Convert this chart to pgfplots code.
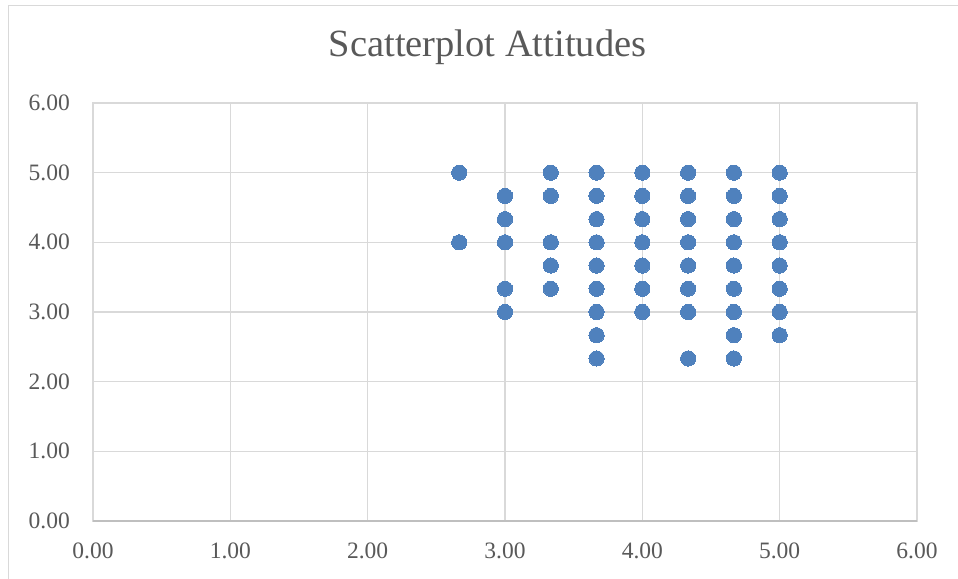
\documentclass[border=0pt]{standalone}
\usepackage{pgfplots}
\pgfplotsset{compat=1.18}
\usepackage{fontspec}
\setmainfont{Liberation Serif}
\definecolor{gridc}{RGB}{217,217,217}
\definecolor{axisc}{RGB}{191,191,191}
\definecolor{txtc}{RGB}{89,89,89}
\definecolor{ptc}{RGB}{79,129,189}
\begin{document}
\begin{tikzpicture}[x=1bp,y=1bp]
\useasboundingbox (0,0) rectangle (958,579);
\fill[white] (0,0) rectangle (958,579);
\draw[gridc, line width=1.3bp] (8.3,0) -- (8.3,573.3) -- (958,573.3);
\node[anchor=base, text=txtc, font=\fontsize{38.5bp}{42bp}\selectfont] at (487.5,522) {Scatterplot Attitudes};
\begin{axis}[
  at={(93bp,58bp)}, anchor=south west,
  scale only axis, width=824bp, height=418bp,
  xmin=0, xmax=6, ymin=0, ymax=6,
  xtick={0,1,2,3,4,5,6}, ytick={0,1,2,3,4,5,6},
  major tick length=0pt,
  grid=major,
  grid style={gridc, line width=1.4bp},
  axis line style={gridc, line width=1.4bp},
  /pgf/number format/.cd, fixed, fixed zerofill, precision=2, assume math mode=true,
  /pgfplots/.cd,
  tick label style={text=txtc, font=\fontsize{23.5bp}{26bp}\selectfont, inner sep=0pt},
  xticklabel style={anchor=north, yshift=-22bp},
  yticklabel style={anchor=east, xshift=-23bp},
  clip=false,
]
\draw[axisc, line width=1.4bp] (rel axis cs:0,0) -- (rel axis cs:1,0);
\addplot[only marks, mark=*, color=ptc, mark size=7.6bp, mark options={draw=ptc, fill=ptc, line width=0pt}] coordinates {
(2.6667,5) (2.6667,4)
(3,4.6667) (3,4.3333) (3,4) (3,3.3333) (3,3)
(3.3333,5) (3.3333,4.6667) (3.3333,4) (3.3333,3.6667) (3.3333,3.3333)
(3.6667,5) (3.6667,4.6667) (3.6667,4.3333) (3.6667,4) (3.6667,3.6667) (3.6667,3.3333) (3.6667,3) (3.6667,2.6667) (3.6667,2.3333)
(4,5) (4,4.6667) (4,4.3333) (4,4) (4,3.6667) (4,3.3333) (4,3)
(4.3333,5) (4.3333,4.6667) (4.3333,4.3333) (4.3333,4) (4.3333,3.6667) (4.3333,3.3333) (4.3333,3) (4.3333,2.3333)
(4.6667,5) (4.6667,4.6667) (4.6667,4.3333) (4.6667,4) (4.6667,3.6667) (4.6667,3.3333) (4.6667,3) (4.6667,2.6667) (4.6667,2.3333)
(5,5) (5,4.6667) (5,4.3333) (5,4) (5,3.6667) (5,3.3333) (5,3) (5,2.6667)
};
\end{axis}
\end{tikzpicture}
\end{document}
